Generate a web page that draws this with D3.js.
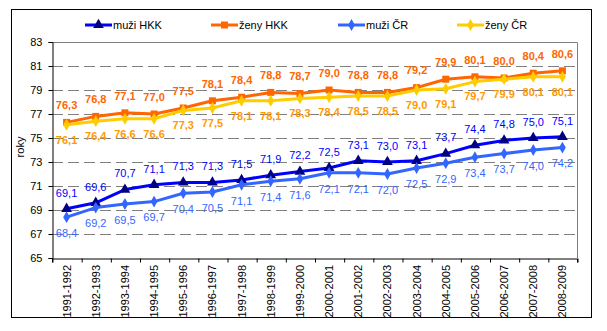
<!DOCTYPE html>
<html><head><meta charset="utf-8">
<script src="https://cdn.jsdelivr.net/npm/d3@7"></script>
<style>body{margin:0;background:#fff}svg{display:block}text{font-family:"Liberation Sans",Arial,sans-serif}</style>
</head><body>
<script>
const categories = ["1991-1992","1992-1993","1993-1994","1994-1995","1995-1996","1996-1997","1997-1998","1998-1999","1999-2000","2000-2001","2001-2002","2002-2003","2003-2004","2004-2005","2005-2006","2006-2007","2007-2008","2008-2009"];
const muziHKK = [69.1,69.6,70.7,71.1,71.3,71.3,71.5,71.9,72.2,72.5,73.1,73.0,73.1,73.7,74.4,74.8,75.0,75.1];
const zenyHKK = [76.3,76.8,77.1,77.0,77.5,78.1,78.4,78.8,78.7,79.0,78.8,78.8,79.2,79.9,80.1,80.0,80.4,80.6];
const muziCR  = [68.4,69.2,69.5,69.7,70.4,70.5,71.1,71.4,71.6,72.1,72.1,72.0,72.5,72.9,73.4,73.7,74.0,74.2];
const zenyCR  = [76.1,76.4,76.6,76.6,77.3,77.5,78.1,78.1,78.3,78.4,78.5,78.5,79.0,79.1,79.7,79.9,80.1,80.1];
const yTicks = [65,67,69,71,73,75,77,79,81,83];
const seriesNames = ["muži HKK","ženy HKK","muži ČR","ženy ČR"];

const series = [
  {name:seriesNames[0], values:muziHKK, line:"#0000FF", marker:"#000080", shape:d3.symbolTriangle, size:50, label:"#0000FF", bold:false, dy:-16},
  {name:seriesNames[1], values:zenyHKK, line:"#FF6600", marker:"#FF6600", shape:d3.symbolSquare, size:49, label:"#FF6600", bold:true, dy:-17},
  {name:seriesNames[2], values:muziCR, line:"#3366FF", marker:"#3366FF", shape:d3.symbolDiamond, size:40, label:"#3366FF", bold:false, dy:16},
  {name:seriesNames[3], values:zenyCR, line:"#FFCC00", marker:"#FFCC00", shape:d3.symbolDiamond, size:40, label:"#FF9900", bold:true, dy:15}
];

const W=607,H=331;
const svg=d3.select("body").append("svg").attr("width",W).attr("height",H);
svg.append("rect").attr("x",11.5).attr("y",9.5).attr("width",580).attr("height",308).attr("fill","#fff").attr("stroke","#000").attr("stroke-width",1);

const L=52,R=577,T=42,B=258;
const x=d3.scaleBand().domain(categories).range([L,R]);
const xEdge=d3.scaleLinear().domain([0,categories.length]).range([L,R]);
const y=d3.scaleLinear().domain([65,83]).range([B,T]);
const cx=c=>x(c)+x.bandwidth()/2;

// gridlines
svg.append("g").selectAll("line").data(yTicks.filter(t=>t>65&&t<83)).join("line")
  .attr("x1",L).attr("x2",R).attr("y1",d=>Math.round(y(d))+0.5).attr("y2",d=>Math.round(y(d))+0.5)
  .attr("stroke","#808080").attr("stroke-dasharray","11,5");
// plot border top/right
svg.append("path").attr("d",`M${L},${T+0.5}H${R+0.5}V${B}`).attr("fill","none").attr("stroke","#808080");

// y axis
const ya=svg.append("g").attr("transform",`translate(${L+0.5},0)`)
  .call(d3.axisLeft(y).tickValues(yTicks).tickSize(4).tickPadding(6).tickFormat(d3.format("d")));
ya.select(".domain").attr("stroke","#000");
ya.selectAll("line").attr("stroke","#000");
ya.selectAll("text").attr("font-size",11).attr("fill","#000").attr("font-family","Liberation Sans, Arial, sans-serif");

// x axis ticks
const xa=svg.append("g").attr("transform",`translate(0,${B+0.5})`)
  .call(d3.axisBottom(xEdge).tickValues(d3.range(categories.length+1)).tickSize(4).tickFormat(""));
xa.select(".domain").attr("stroke","#000");
xa.selectAll("line").attr("stroke","#000").attr("transform",function(){return "translate(0.5,0)"});
// x labels
svg.append("g").selectAll("text").data(categories).join("text")
  .attr("transform",d=>`translate(${cx(d)+4},${B+7}) rotate(-90)`)
  .attr("text-anchor","end").attr("font-size",11).attr("fill","#000").text(d=>d);

// y title
svg.append("text").attr("transform","translate(24,147) rotate(-90)").attr("text-anchor","middle")
  .attr("font-size",11).text("roky");

const fmt=v=>v.toFixed(1).replace(".",",");
const lineGen=d3.line().x((d,i)=>cx(categories[i])).y(d=>y(d));

series.forEach(s=>{
  const g=svg.append("g");
  g.append("path").datum(s.values).attr("d",lineGen).attr("fill","none").attr("stroke",s.line).attr("stroke-width",3).attr("stroke-linejoin","round");
  g.selectAll("path.m").data(s.values).join("path").attr("class","m")
    .attr("d",d3.symbol().type(s.shape).size(s.size))
    .attr("transform",(d,i)=>`translate(${cx(categories[i])},${y(d)})`)
    .attr("fill",s.marker);
});
series.forEach(s=>{
  svg.append("g").selectAll("text").data(s.values).join("text")
    .attr("x",(d,i)=>cx(categories[i])).attr("y",d=>y(d)+s.dy).attr("dy","0.35em")
    .attr("text-anchor","middle").attr("font-size",11).attr("font-weight",s.bold?"bold":"normal")
    .attr("fill",s.label).text(fmt);
});

// legend
const legX=[85,211,338,457];
series.forEach((s,i)=>{
  const g=svg.append("g").attr("transform",`translate(${legX[i]},25)`);
  g.append("line").attr("x1",0).attr("x2",27).attr("stroke",s.line).attr("stroke-width",3);
  g.append("path").attr("d",d3.symbol().type(s.shape).size(s.size)).attr("transform","translate(13.5,0)").attr("fill",s.marker);
  g.append("text").attr("x",28).attr("dy","0.35em").attr("font-size",11).text(s.name);
});
</script>
</body></html>
